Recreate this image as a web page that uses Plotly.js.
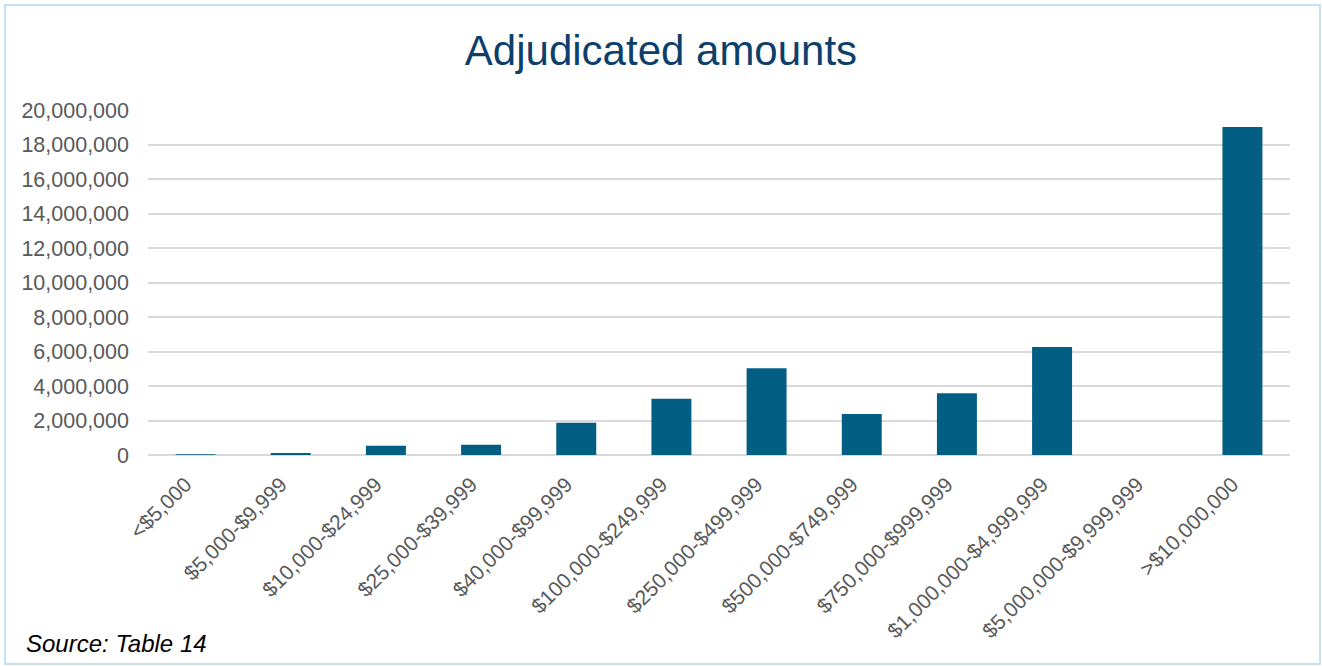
<!DOCTYPE html>
<html>
<head>
<meta charset="utf-8">
<script src="https://cdn.plot.ly/plotly-3.0.1.min.js"></script>
<style>
  html, body { margin: 0; padding: 0; background: #fff; }
  #wrap { position: relative; width: 1322px; height: 666px; }
  #chart { position: absolute; left: 0; top: 0; width: 1322px; height: 666px; }
  #frame { position: absolute; left: 4px; top: 4px; width: 1313px; height: 657px;
           border: 2px solid #c3e0f7; pointer-events: none; }
</style>
</head>
<body>
<div id="wrap">
  <div id="chart"></div>
  <div id="frame"></div>
</div>
<script>
const categories = [
  "<$5,000", "$5,000-$9,999", "$10,000-$24,999", "$25,000-$39,999",
  "$40,000-$99,999", "$100,000-$249,999", "$250,000-$499,999",
  "$500,000-$749,999", "$750,000-$999,999", "$1,000,000-$4,999,999",
  "$5,000,000-$9,999,999", ">$10,000,000"
];
const amounts = [
  40000, 120000, 540000, 600000, 1870000, 3260000, 5030000,
  2380000, 3580000, 6260000, 0, 19010000
];
const yTickValues = [0, 2000000, 4000000, 6000000, 8000000, 10000000,
  12000000, 14000000, 16000000, 18000000, 20000000];
const yTickLabels = ["0", "2,000,000", "4,000,000", "6,000,000", "8,000,000",
  "10,000,000", "12,000,000", "14,000,000", "16,000,000", "18,000,000", "20,000,000"];

const FONT = "Liberation Sans, Arial, sans-serif";

const trace = {
  type: "bar",
  x: categories,
  y: amounts,
  marker: { color: "#025e83", line: { width: 0 } },
  hoverinfo: "x+y"
};

const layout = {
  width: 1322,
  height: 666,
  margin: { l: 148, r: 32, t: 110, b: 211 },
  paper_bgcolor: "#ffffff",
  plot_bgcolor: "#ffffff",
  bargap: 0.58,
  showlegend: false,
  font: { family: FONT, color: "#595959", size: 21 },
  title: {
    text: "Adjudicated amounts",
    font: { family: FONT, size: 42, color: "#0d3f6b" },
    x: 0.5, xanchor: "center",
    y: 1 - 50 / 666, yanchor: "middle", yref: "container"
  },
  xaxis: {
    type: "category",
    tickangle: -45,
    tickfont: { family: FONT, size: 21, color: "#595959" },
    showgrid: false,
    showline: false,
    zeroline: false,
    ticks: "",
    ticklabelstandoff: 12,
    ticklabelshift: -10
  },
  yaxis: {
    range: [0, 20000000],
    tickmode: "array",
    tickvals: yTickValues,
    ticktext: yTickLabels,
    tickfont: { family: FONT, size: 21.5, color: "#595959" },
    showgrid: true,
    gridcolor: "#d9d9d9",
    gridwidth: 2,
    zeroline: true,
    zerolinecolor: "#d9d9d9",
    zerolinewidth: 2,
    showline: false,
    ticks: "",
    ticklabelstandoff: 18,
    fixedrange: true
  },
  annotations: [{
    text: "<i>Source: Table 14</i>",
    xref: "paper", yref: "paper",
    x: (24 - 148) / 1142, y: -(643 - 455) / 345,
    xanchor: "left", yanchor: "middle",
    showarrow: false,
    font: { family: FONT, size: 24, color: "#000000" }
  }]
};

Plotly.newPlot("chart", [trace], layout, { displayModeBar: false, staticPlot: true });
</script>
</body>
</html>
